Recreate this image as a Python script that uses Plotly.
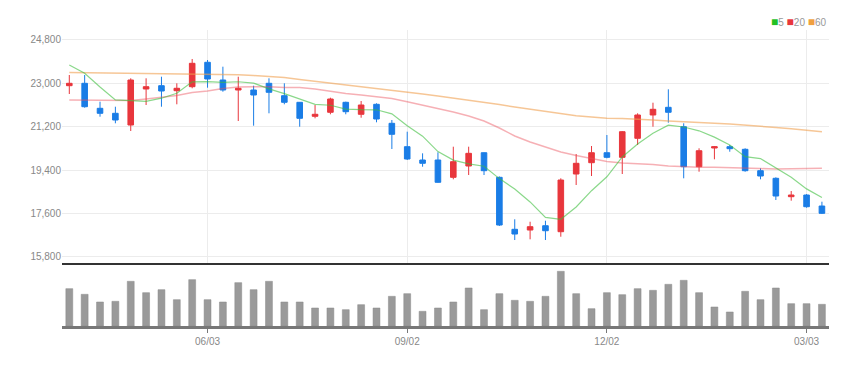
import pandas as pd
import plotly.graph_objects as go
from plotly.subplots import make_subplots

# ---- data (weekly) ----
dates = pd.date_range("2024-04-01", periods=50, freq="7D")

opens = [22902, 23001, 21963, 21755, 21269, 22765, 22902, 22694, 22860, 23874,
         23138, 22723, 22723, 23001, 22486, 22212, 21630, 21797, 22212, 21714,
         22129, 21340, 20368, 19815, 19815, 19096, 19566, 20118, 19096, 16937,
         16907, 17086, 16837, 19234, 19703, 20118, 19927, 20717, 21685, 22004,
         21198, 19537, 20314, 20368, 20260, 19371, 19055, 18291, 18361, 17904]
highs = [23346, 23346, 22237, 22029, 23209, 23209, 23275, 23001, 24011, 23969,
         23691, 23275, 22902, 23209, 23001, 22224, 22100, 22403, 22237, 22266,
         22170, 21477, 20991, 20093, 20135, 20368, 20368, 20130, 19130, 17352,
         17252, 17294, 19055, 20064, 20397, 20854, 21020, 21755, 22196, 22752,
         21340, 20301, 20397, 20438, 20301, 19470, 19096, 18527, 18400, 18083]
lows = [22557, 21988, 21614, 21340, 21020, 22100, 22029, 22129, 22794, 22819,
        22652, 21435, 21240, 21755, 22129, 21198, 21547, 21714, 21714, 21572,
        21381, 20272, 19815, 19537, 18873, 19013, 19192, 19192, 17074, 16492,
        16521, 16492, 16629, 18777, 19151, 19886, 19234, 20438, 21198, 21365,
        19055, 19329, 19844, 20160, 19329, 19013, 18154, 18125, 17834, 17572]
closes = [23001, 22029, 21755, 21477, 23138, 22860, 22681, 22794, 23832, 23180,
          22723, 22794, 22515, 22627, 22212, 21547, 21714, 22349, 21822, 22100,
          21518, 20883, 19857, 19678, 18889, 19745, 20093, 19371, 17115, 16741,
          17045, 16878, 18984, 19678, 20118, 19927, 20991, 21685, 21921, 21797,
          19537, 20201, 20368, 20285, 19371, 19151, 18320, 18361, 17875, 17601]

ma5 = [23760, 23420, 22850, 22310, 22280, 22252, 22382, 22590, 23061, 23069,
       23042, 23065, 23009, 22768, 22574, 22339, 22123, 22090, 21929, 21906,
       21901, 21734, 21236, 20807, 20165, 19810, 19652, 19555, 19043, 18613,
       18073, 17430, 17353, 17865, 18541, 19117, 19940, 20480, 20928, 21264,
       21186, 21028, 20765, 20438, 19952, 19875, 19499, 19098, 18616, 18262]
ma20 = [22308, 22295, 22287, 22279, 22287, 22349, 22411, 22495, 22619, 22682,
        22785, 22848, 22860, 22860, 22827, 22827, 22765, 22661, 22578, 22515,
        22445, 22370, 22237, 22100, 21934, 21809, 21643, 21435, 21145, 20813,
        20563, 20355, 20148, 20002, 19886, 19753, 19691, 19670, 19628, 19566,
        19525, 19512, 19512, 19504, 19483, 19462, 19441, 19441, 19462, 19470]
ma60 = [23450, 23442, 23437, 23429, 23425, 23421, 23417, 23408, 23400, 23388,
        23375, 23354, 23325, 23284, 23242, 23163, 23089, 23022, 22951, 22881,
        22810, 22727, 22644, 22561, 22474, 22391, 22299, 22212, 22117, 22021,
        21926, 21830, 21735, 21652, 21602, 21548, 21539, 21518, 21477, 21435,
        21394, 21365, 21340, 21311, 21269, 21228, 21165, 21111, 21053, 20991]

volumes = [933, 792, 600, 617, 1117, 833, 908, 658, 1158, 658,
           600, 1083, 908, 1117, 600, 600, 450, 450, 408, 533,
           450, 742, 808, 367, 450, 600, 950, 408, 808, 642,
           617, 742, 1367, 808, 433, 833, 783, 933, 892, 1042,
           1142, 833, 475, 350, 867, 658, 950, 558, 558, 542]

price_ticks = [15800, 17600, 19400, 21200, 23000, 24800]
date_ticks = ["2024-06-03", "2024-09-02", "2024-12-02", "2025-03-03"]
date_tick_labels = ["06/03", "09/02", "12/02", "03/03"]

UP = "#e8363c"
DOWN = "#1a7de6"
FONT = "Liberation Sans Narrow, Arial Narrow, sans-serif"

fig = make_subplots(rows=2, cols=1, shared_xaxes=True, vertical_spacing=0.0,
                    row_heights=[0.8, 0.2])

fig.add_trace(go.Scatter(x=dates, y=ma60, mode="lines",
                         line=dict(color="rgba(240,160,80,0.6)", width=1.5),
                         hoverinfo="skip", showlegend=False), row=1, col=1)
fig.add_trace(go.Scatter(x=dates, y=ma20, mode="lines",
                         line=dict(color="rgba(235,80,90,0.45)", width=1.5),
                         hoverinfo="skip", showlegend=False), row=1, col=1)
fig.add_trace(go.Scatter(x=dates, y=ma5, mode="lines",
                         line=dict(color="rgba(60,190,60,0.6)", width=1.2),
                         hoverinfo="skip", showlegend=False), row=1, col=1)

fig.add_trace(go.Candlestick(
    x=dates, open=opens, high=highs, low=lows, close=closes,
    increasing=dict(line=dict(color=UP, width=1), fillcolor=UP),
    decreasing=dict(line=dict(color=DOWN, width=1), fillcolor=DOWN),
    whiskerwidth=0, showlegend=False), row=1, col=1)

fig.add_trace(go.Bar(x=dates, y=volumes, marker=dict(color="#9a9a9a",
                     line=dict(color="#8a8a8a", width=0.5)),
                     showlegend=False), row=2, col=1)

week = pd.Timedelta(days=7)
x_range = [dates[0] - 0.475 * week, dates[-1] + 0.46 * week]

fig.update_layout(
    width=851, height=350,
    margin=dict(l=54, r=30, t=22, b=32),
    paper_bgcolor="white", plot_bgcolor="white",
    font=dict(family=FONT, size=10, color="#888888"),
    boxgap=0.48, bargap=0.55,
    xaxis=dict(domain=[0, 1], range=x_range, rangeslider=dict(visible=False),
               tickvals=date_ticks, ticktext=date_tick_labels,
               showticklabels=False, showgrid=True, gridcolor="#ececec",
               showline=True, linecolor="#333333", linewidth=2,
               zeroline=False),
    yaxis=dict(domain=[0.2128, 1], range=[15537, 25215],
               tickvals=price_ticks, tickformat=",d",
               showgrid=True, gridcolor="#ececec", zeroline=False,
               showline=False, ticks=""),
    xaxis2=dict(range=x_range, tickvals=date_ticks, ticktext=date_tick_labels,
                showgrid=False, showline=True, linecolor="#777777",
                linewidth=2.5, ticks="outside", ticklen=4, tickcolor="#777777",
                zeroline=False),
    yaxis2=dict(domain=[0, 0.196], range=[0, 1450], showticklabels=False,
                showgrid=False, zeroline=False, showline=False),
)

fig.add_annotation(
    xref="paper", yref="paper", x=1.0, y=1.0, xanchor="right", yanchor="bottom",
    yshift=-1, showarrow=False, font=dict(family=FONT, size=10, color="#999999"),
    text=("<span style='color:#22c022;font-size:12px'>■</span>5 "
          "<span style='color:#e8363c;font-size:12px'>■</span>20 "
          "<span style='color:#f0a040;font-size:12px'>■</span>60"))

fig.write_html("out.html")
